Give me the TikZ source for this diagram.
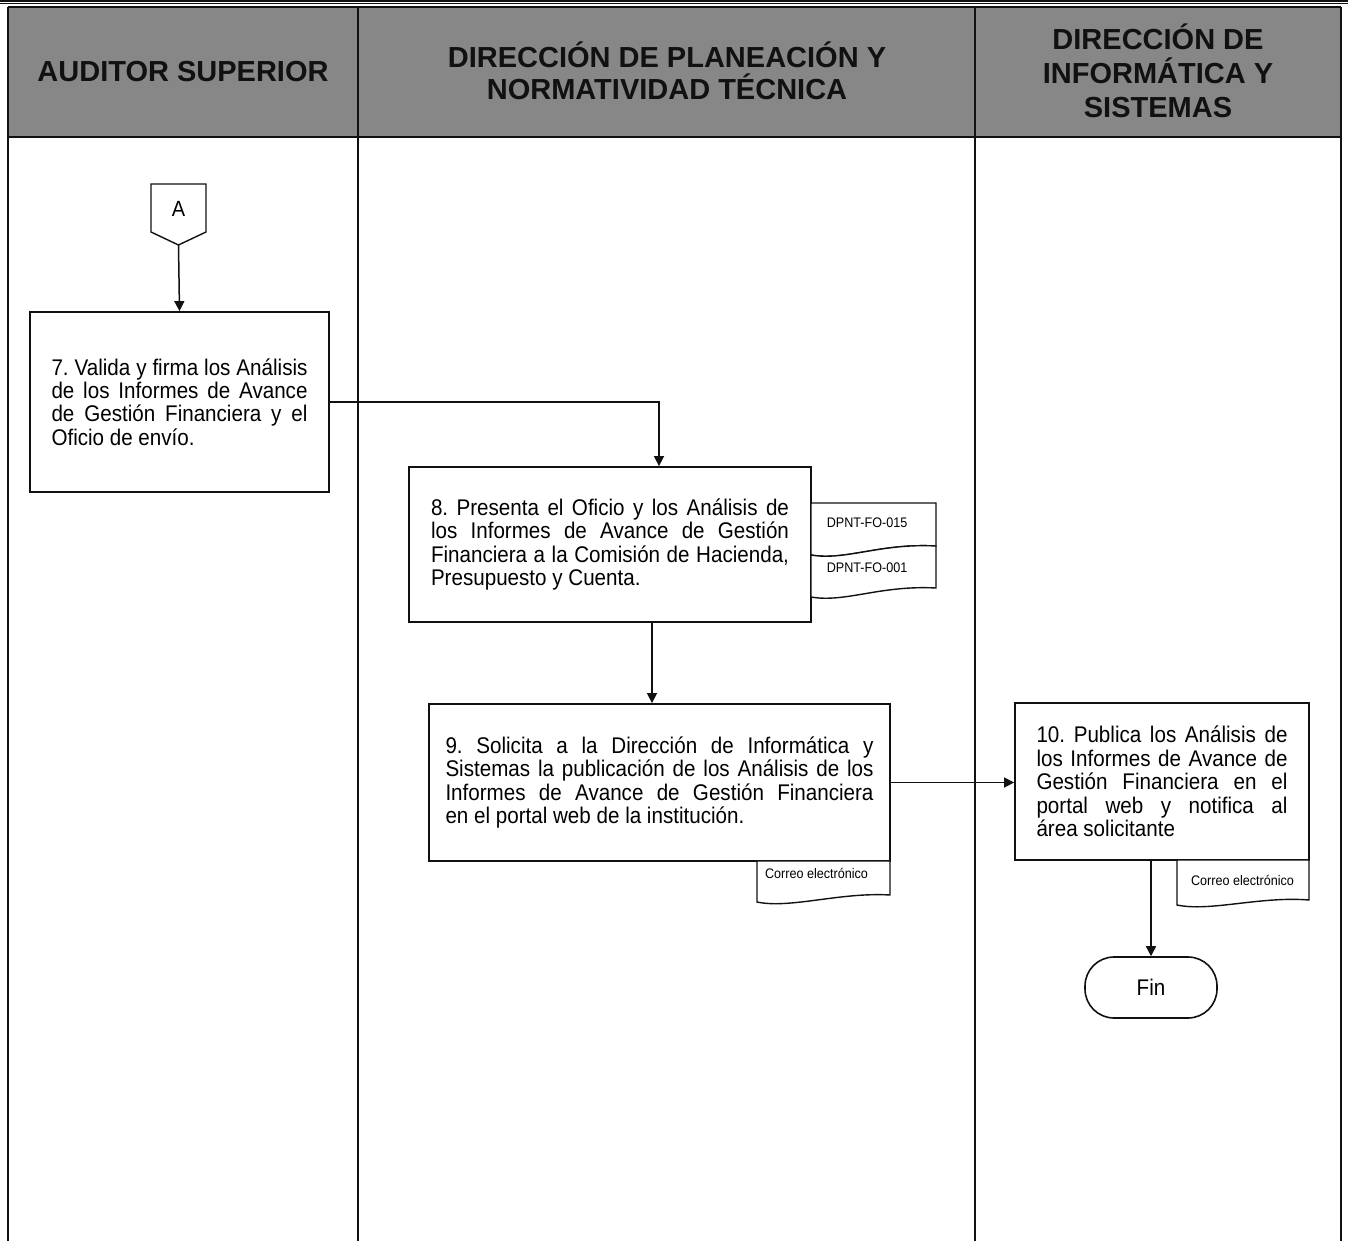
\documentclass[tikz,border=0pt]{standalone}
\usepackage{fontspec}
\usepackage{graphicx}
\setmainfont{Liberation Sans}
\frenchspacing
\usetikzlibrary{arrows.meta,calc}
\definecolor{hdrgray}{RGB}{135,135,135}
\definecolor{inkblack}{RGB}{17,17,17}
% body lettering is set a little taller than wide
\newcommand{\tall}[1]{\scalebox{1}[1.1]{#1}}
% one justified line of a given width, and a flush-left closing line
\newcommand{\jl}[2]{\tall{\makebox[#1][s]{#2}}}
\newcommand{\lastln}[2]{\tall{\makebox[#1][l]{#2}}}
\newcommand{\bodyfont}{\fontsize{20.6}{23.4}\selectfont\lineskiplimit=-50pt\relax}
\tikzset{
  frame/.style={line width=2pt, inkblack},
  stepbox/.style={draw=inkblack, line width=1.8pt, fill=white, inner sep=0pt,
    align=left, font=\bodyfont},
  hdrtext/.style={font=\fontsize{29}{33}\selectfont\bfseries, align=center, text=inkblack},
  docline/.style={draw=inkblack, line width=1.4pt, fill=white},
  doclabel/.style={font=\fontsize{12.6}{14}\selectfont, inner sep=0pt},
  flow/.style={line width=1.5pt, inkblack, -{Triangle[length=10pt,width=10pt]}},
  terminal/.style={draw=inkblack, line width=1.6pt, rounded corners=29pt,
    minimum width=132pt, minimum height=61pt, font=\bodyfont}
}
\begin{document}
\begin{tikzpicture}[x=1pt,y=-1pt]
\useasboundingbox (0,0) rectangle (1348,1241);
\fill[white] (0,0) rectangle (1348,1241);

% double rule along the top edge
\draw[line width=2.4pt, inkblack] (0,1.2) -- (1348,1.2);
\draw[line width=1pt, inkblack] (0,4) -- (1348,4);

% header band and swimlane frame
\fill[hdrgray] (8,7) rectangle (1341,137);
\draw[frame] (8,7) -- (1341,7);
\draw[frame] (8,137) -- (1341,137);
\draw[frame] (8,7) -- (8,1241);
\draw[frame] (358,7) -- (358,1241);
\draw[frame] (975,7) -- (975,1241);
\draw[frame] (1341,7) -- (1341,1241);

\node[hdrtext] (h1) at (183,72) {AUDITOR SUPERIOR};
\node[hdrtext, font=\fontsize{29}{32}\selectfont\bfseries] (h2) at (667,71) {DIRECCIÓN DE PLANEACIÓN Y\\NORMATIVIDAD TÉCNICA};
\node[hdrtext, font=\fontsize{29}{34}\selectfont\bfseries] (h3) at (1158,71) {DIRECCIÓN DE\\INFORMÁTICA Y\\SISTEMAS};

% off-page connector A
\draw[line width=1.4pt, inkblack, fill=white] (151,184) -- (206,184) -- (206,232) -- (178.5,245) -- (151,232) -- cycle;
\node[font=\fontsize{20}{23}\selectfont] (conA) at (178.5,209) {\tall{A}};
\coordinate (Atip) at (178.5,245);

% process steps
\node[stepbox, minimum width=299pt, minimum height=180pt] (b7) at (179.5,402) {%
\jl{256pt}{7. Valida y firma los Análisis}\\
\jl{256pt}{de los Informes de Avance}\\
\jl{256pt}{de Gestión Financiera y el}\\
\lastln{256pt}{Oficio de envío.}};

\node[stepbox, minimum width=402pt, minimum height=155pt] (b8) at (610,544.5) {%
\jl{358pt}{8. Presenta el Oficio y los Análisis de}\\
\jl{358pt}{los Informes de Avance de Gestión}\\
\jl{358pt}{Financiera a la Comisión de Hacienda,}\\
\lastln{358pt}{Presupuesto y Cuenta.}};

\node[stepbox, minimum width=461pt, minimum height=157pt] (b9) at (659.5,782.5) {%
\jl{428pt}{9. Solicita a la Dirección de Informática y}\\
\jl{428pt}{Sistemas la publicación de los Análisis de los}\\
\jl{428pt}{Informes de Avance de Gestión Financiera}\\
\lastln{428pt}{en el portal web de la institución.}};

\node[stepbox, minimum width=294pt, minimum height=157pt] (b10) at (1162,781.5) {%
\jl{251pt}{10. Publica los Análisis de}\\
\jl{251pt}{los Informes de Avance de}\\
\jl{251pt}{Gestión Financiera en el}\\
\jl{251pt}{portal web y notifica al}\\
\lastln{251pt}{área solicitante}};

% attached documents
\draw[docline] (811,503) -- (936,503) -- (936,546) .. controls (880,543) and (845,561) .. (811,555) -- cycle;
\draw[docline] (811,555) .. controls (845,561) and (880,543) .. (936,546) -- (936,588) .. controls (880,585) and (845,603) .. (811,597) -- cycle;
\node[doclabel] (d15) at (867,523) {\tall{DPNT-FO-015}};
\node[doclabel] (d01) at (867,568) {\tall{DPNT-FO-001}};

\draw[docline] (757,861) -- (757,902) .. controls (790,909) and (840,892) .. (890,895) -- (890,861) -- cycle;
\node[doclabel] (mail9) at (816.5,873) {\tall{Correo electrónico}};

\draw[docline] (1177,860) -- (1177,905) .. controls (1210,912) and (1260,896) .. (1309,900) -- (1309,860) -- cycle;
\node[doclabel] (mail10) at (1242.5,880) {\tall{Correo electrónico}};

% terminal
\node[terminal] (fin) at (1151,987.5) {\tall{Fin}};

% connectors
\draw[flow] (Atip) -- (b7.north);
\draw[flow] (b7.east) -| ([xshift=49pt]b8.north);
\coordinate (down8) at ([xshift=42pt]b8.south);
\draw[flow] (down8) -- (down8 |- b9.north);
\draw[flow] (b9.east) -- (b9.east -| b10.west);
\draw[flow] (fin.north |- b10.south) -- (fin.north);
\end{tikzpicture}
\end{document}
